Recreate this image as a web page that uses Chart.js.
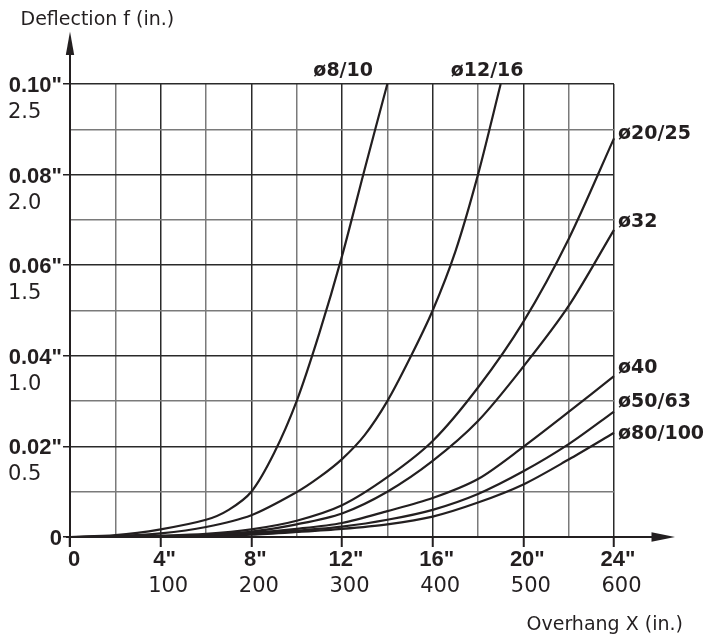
<!DOCTYPE html>
<html>
<head>
<meta charset="utf-8">
<script src="https://cdn.jsdelivr.net/npm/chart.js@4.4.0/dist/chart.umd.min.js"></script>
<style>
html, body { margin: 0; padding: 0; background: #fff; }
#wrap { width: 721px; height: 635px; }
</style>
</head>
<body>
<div id="wrap"><canvas id="grafico" width="721" height="635"></canvas></div>
<script>
// balanco X em polegadas, flecha f em polegadas
var xPasso = [0, 2, 4, 6, 8, 10, 12, 14, 16, 18, 20, 22, 24];
var x8_10 = [0, 2, 4, 6, 7, 8, 9, 10, 11, 12, 13, 14];
var f8_10 = [0, 0.0004, 0.0017, 0.0038, 0.006, 0.010, 0.0185, 0.030, 0.045, 0.062, 0.0812, 0.100];
var x12_16 = [0, 2, 4, 6, 8, 10, 11, 12, 13, 14, 15, 16, 17, 18, 19];
var f12_16 = [0, 0.0002, 0.0008, 0.0022, 0.0048, 0.0099, 0.0132, 0.0172, 0.0225, 0.030, 0.0395, 0.050, 0.063, 0.080, 0.100];
var f20_25 = [0, 0.0001, 0.0003, 0.0007, 0.0017, 0.0036, 0.0070, 0.0132, 0.0212, 0.0330, 0.0475, 0.0658, 0.088];
var f32 = [0, 0.0001, 0.0002, 0.0005, 0.0012, 0.0028, 0.0052, 0.0100, 0.0168, 0.0256, 0.0376, 0.0510, 0.0678];
var f40 = [0, 0, 0.0001, 0.0004, 0.0009, 0.0018, 0.0031, 0.0057, 0.0086, 0.0128, 0.0199, 0.0276, 0.0355];
var f50_63 = [0, 0, 0.0001, 0.0003, 0.0007, 0.0014, 0.0023, 0.0038, 0.006, 0.0095, 0.0145, 0.0205, 0.0277];
var f80_100 = [0, 0, 0.0001, 0.0002, 0.0005, 0.0011, 0.0018, 0.0028, 0.0045, 0.0076, 0.0116, 0.0171, 0.023];

var nomes = ['ø8/10', 'ø12/16', 'ø20/25', 'ø32', 'ø40', 'ø50/63', 'ø80/100'];

var rotulosX = ['0', '4"', '8"', '12"', '16"', '20"', '24"'];
var rotulosXmm = ['', '100', '200', '300', '400', '500', '600'];
var rotulosY = ['0', '0.02"', '0.04"', '0.06"', '0.08"', '0.10"'];
var rotulosYmm = ['', '0.5', '1.0', '1.5', '2.0', '2.5'];

var TINTA = '#231f20';

function pontos(xs, ys){
	return xs.map(function(x, i){ return {x: x, y: ys[i]}; });
}

function serie(i, xs, ys){
	return {
		label: nomes[i],
		data: pontos(xs, ys),
		borderColor: TINTA,
		borderWidth: 2.2,
		pointRadius: 0,
		fill: false,
		tension: 0.3,
		clip: false
	};
}

function marcado(v, passo){ return Math.round(v / passo) % 2 === 0; }

// onde fica cada nome de curva em relacao ao ultimo ponto
var deslocNome = [
	{dx: -74, dy: -13},
	{dx: -50, dy: -13},
	{dx: 4, dy: -4},
	{dx: 4, dy: -8},
	{dx: 4, dy: -8.5},
	{dx: 4, dy: -9},
	{dx: 4, dy: 1}
];

var desenhos = {
	id: 'desenhos',
	afterDraw: function(chart){
		var c = chart.ctx, a = chart.chartArea;
		var sx = chart.scales.x, sy = chart.scales.y;
		c.save();
		c.fillStyle = TINTA;
		c.strokeStyle = TINTA;

		// eixos
		c.lineWidth = 2;
		c.beginPath();
		c.moveTo(a.left, a.bottom + 10); c.lineTo(a.left, 45);
		c.moveTo(a.left - 4, a.bottom); c.lineTo(a.right + 45, a.bottom);
		c.stroke();
		c.beginPath();
		c.moveTo(a.left, 31.5); c.lineTo(a.left + 4.2, 55); c.lineTo(a.left - 4.2, 55);
		c.closePath(); c.fill();
		c.beginPath();
		c.moveTo(a.right + 61, a.bottom); c.lineTo(a.right + 37.5, a.bottom - 4.7); c.lineTo(a.right + 37.5, a.bottom + 4.7);
		c.closePath(); c.fill();

		// titulos dos eixos
		c.font = '19px "DejaVu Sans"';
		c.textAlign = 'left';
		c.textBaseline = 'alphabetic';
		c.fillText('Deflection f (in.)', 20.5, 25);
		c.fillText('Overhang X (in.)', 526.5, 630);

		// valores em mm
		c.font = '21px "DejaVu Sans"';
		c.textBaseline = 'middle';
		c.textAlign = 'left';
		rotulosYmm.forEach(function(t, i){
			if(!t) return;
			c.fillText(t, 8, sy.getPixelForValue(i * 0.02) + 28.5);
		});
		c.textAlign = 'center';
		rotulosXmm.forEach(function(t, i){
			if(!t) return;
			c.fillText(t, sx.getPixelForValue(i * 4) + 7.5, 587);
		});

		// nomes das curvas
		c.font = 'bold 19px "DejaVu Sans"';
		c.textAlign = 'left';
		chart.data.datasets.forEach(function(ds, i){
			var ult = ds.data[ds.data.length - 1];
			var px = sx.getPixelForValue(ult.x), py = sy.getPixelForValue(ult.y);
			c.fillText(ds.label, px + deslocNome[i].dx, py + deslocNome[i].dy);
		});
		c.restore();
	}
};

new Chart(document.getElementById('grafico').getContext('2d'), {
	type: 'line',
	data: {
		datasets: [
			serie(0, x8_10, f8_10),
			serie(1, x12_16, f12_16),
			serie(2, xPasso, f20_25),
			serie(3, xPasso, f32),
			serie(4, xPasso, f40),
			serie(5, xPasso, f50_63),
			serie(6, xPasso, f80_100)
		]
	},
	options: {
		responsive: false,
		animation: false,
		events: [],
		layout: { padding: {top: 84, right: 107, bottom: 0, left: 0} },
		plugins: { legend: {display: false}, tooltip: {enabled: false} },
		scales: {
			x: {
				type: 'linear', min: 0, max: 24,
				afterFit: function(s){ s.height = 98; },
				border: {display: false},
				grid: {
					lineWidth: 1.5,
					tickLength: 10,
					color: function(ctx){ return ctx.tick && marcado(ctx.tick.value, 2) ? '#2a2a2a' : '#7a7a7a'; },
					tickColor: function(ctx){ return ctx.tick && marcado(ctx.tick.value, 2) ? TINTA : 'rgba(0,0,0,0)'; },
					tickWidth: 2
				},
				ticks: {
					stepSize: 2, autoSkip: false, maxRotation: 0, padding: 0, labelOffset: 4,
					color: TINTA,
					font: {family: '"Liberation Sans"', weight: 'bold', size: 22},
					callback: function(v){ return v % 4 === 0 ? rotulosX[v / 4] : ''; }
				}
			},
			y: {
				type: 'linear', min: 0, max: 0.1,
				afterFit: function(s){ s.width = 70; },
				border: {display: false},
				grid: {
					lineWidth: 1.5,
					tickLength: 7,
					color: function(ctx){ return ctx.tick && marcado(ctx.tick.value, 0.01) ? '#2a2a2a' : '#7a7a7a'; },
					tickColor: function(ctx){ return ctx.tick && marcado(ctx.tick.value, 0.01) ? TINTA : 'rgba(0,0,0,0)'; }
				},
				ticks: {
					stepSize: 0.01, autoSkip: false, padding: 1, labelOffset: 2,
					color: TINTA,
					font: {family: '"Liberation Sans"', weight: 'bold', size: 22},
					callback: function(v){
						var k = Math.round(v * 100);
						return k % 2 === 0 ? rotulosY[k / 2] : '';
					}
				}
			}
		}
	},
	plugins: [desenhos]
});
</script>
</body>
</html>
